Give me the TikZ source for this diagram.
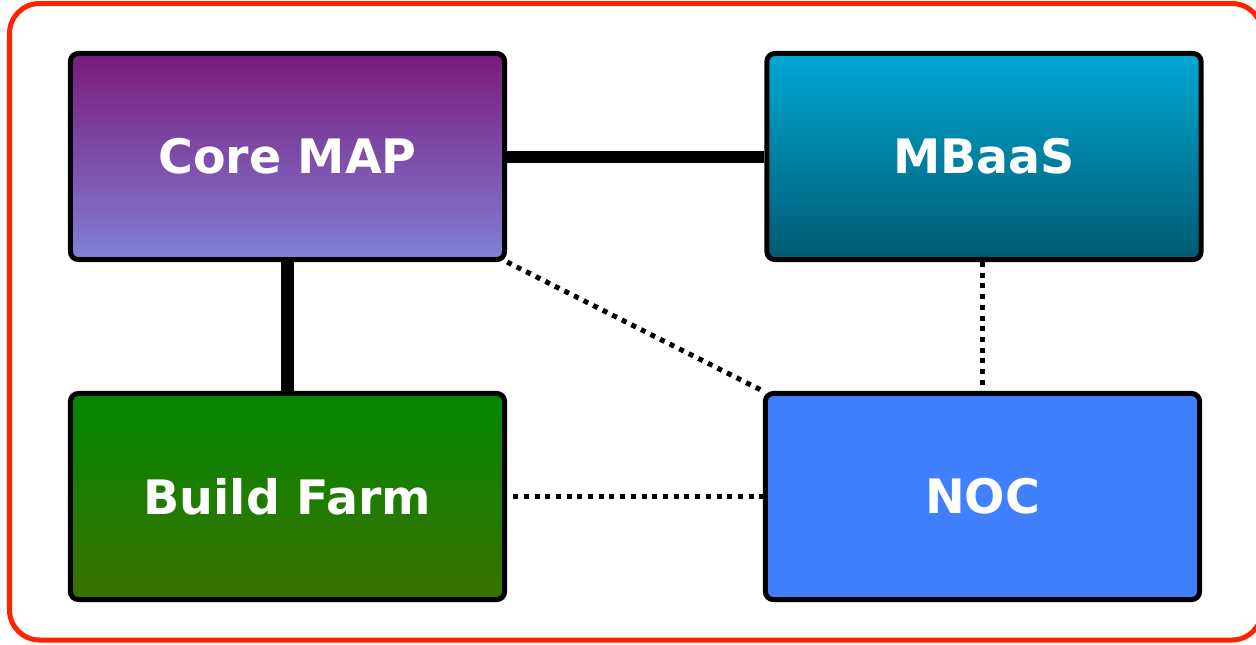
\documentclass[tikz,border=0pt]{standalone}
\usepackage{fontspec}
\setmainfont{DejaVu Sans}
\usetikzlibrary{positioning}

\definecolor{frame}{HTML}{FF2200}
\definecolor{mapTop}{HTML}{7A1A7C}
\definecolor{mapBot}{HTML}{8080D6}
\definecolor{mbaasTop}{HTML}{00A8D4}
\definecolor{mbaasBot}{HTML}{005A72}
\definecolor{farmTop}{HTML}{008700}
\definecolor{farmMid}{HTML}{068500}
\definecolor{farmBot}{HTML}{3C7100}
\definecolor{noc}{HTML}{4080FF}

\tikzset{
    box/.style={draw=black, line width=0.05cm, rounded corners=0.08cm,
        minimum width=4.34cm, minimum height=2.06cm, text=white,
        font=\fontsize{13.5}{16}\selectfont\bfseries},
    link/.style={black, line width=0.12cm},
    dotlink/.style={black, line width=0.05cm, dash pattern=on 0.05cm off 0.057cm}
}

\begin{document}
\begin{tikzpicture}[x=0.01cm, y=-0.01cm]
\useasboundingbox (0,0) rectangle (1256,644);
\draw[frame, line width=0.05cm, rounded corners=0.3cm] (9.5,3.5) rectangle (1262,640);

\node[box, top color=mapTop, bottom color=mapBot] (map) at (287.5,156.5) {Core MAP};
\node[box, top color=mbaasTop, bottom color=mbaasBot] (mbaas) at (984,156.5) {MBaaS};
\node[box, top color=farmTop, middle color=farmMid, bottom color=farmBot] (farm) at (287.5,496.5) {Build Farm};
\node[box, fill=noc] (noc) at (982.5,496.5) {NOC};

\draw[link] (map.east) -- (mbaas.west);
\draw[link] (map.south) -- (farm.north);
\draw[dotlink] (map.south east) -- (noc.north west);
\draw[dotlink] (noc.north |- mbaas.south) -- (noc.north);
\draw[dotlink, shorten <=0.06cm] (farm.east) -- (noc.west);
\end{tikzpicture}
\end{document}
